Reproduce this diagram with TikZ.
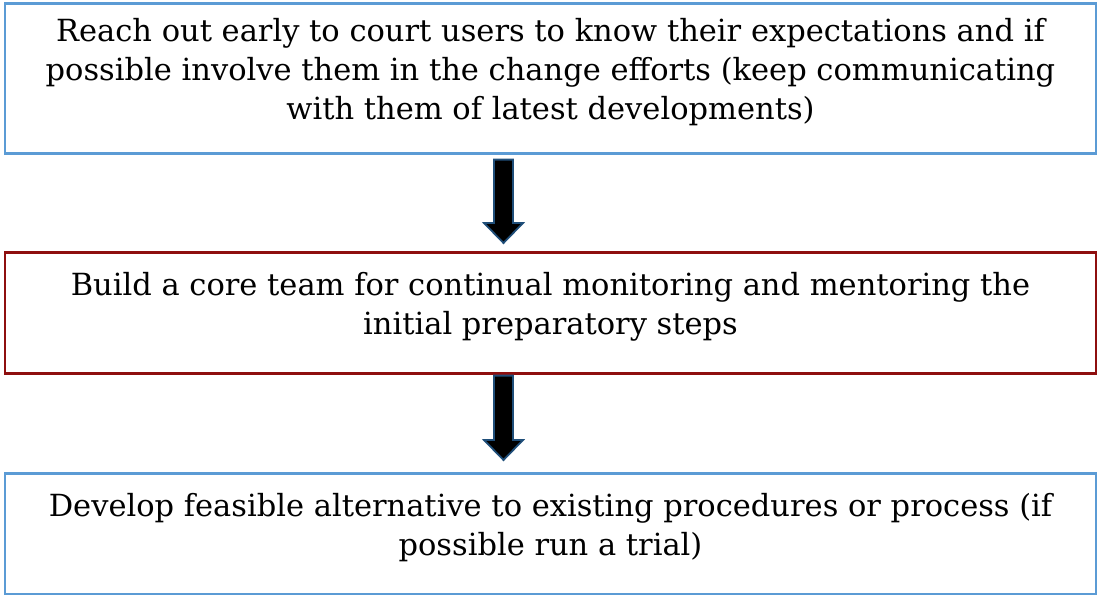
\documentclass[tikz,border=0pt]{standalone}
\usepackage{fontspec}
\setmainfont{DejaVu Serif}
\usetikzlibrary{calc}

\definecolor{boxBlue}{HTML}{5B9BD5}
\definecolor{boxRed}{HTML}{8E0F0F}
\definecolor{arrowEdge}{HTML}{1F4E79}

\newcommand{\liftedtext}[1]{%
  \raisebox{6bp}[\height][\depth]{\parbox{1080bp}{\centering
    \fontsize{30.5bp}{39bp}\selectfont #1}}}

\begin{document}
\begin{tikzpicture}
[x=1bp,y=-1bp,
  boxDecorate/.style={shape=rectangle,draw,line width=2.6bp,inner sep=0pt,
    minimum width=1091bp,anchor=north},%
  arrowDecorate/.style={fill=black,draw=arrowEdge,line width=1.8bp,line join=miter}]
\useasboundingbox (0,0) rectangle (1097,595);
%% boxes
\node (reach) at (550.5,2) [boxDecorate,draw=boxBlue,minimum height=150bp]
  {\liftedtext{Reach out early to court users to know their expectations and if\\
  possible involve them in the change efforts (keep communicating\\
  with them of latest developments)}};
\node (core) at (550.5,251) [boxDecorate,draw=boxRed,minimum height=121bp]
  {\liftedtext{Build a core team for continual monitoring and mentoring the\\
  initial preparatory steps}};
\node (develop) at (550.5,472) [boxDecorate,draw=boxBlue,minimum height=121bp]
  {\liftedtext{Develop feasible alternative to existing procedures or process (if\\
  possible run a trial)}};
%% block arrows
\foreach \startnode/\endnode/\gapa/\gapb in {reach/core/5/8, core/develop/1/12}
{
  \coordinate (s) at ($(\startnode.south)+(-47,\gapa)$);
  \coordinate (t) at ($(\endnode.north)+(-47,-\gapb)$);
  \draw[arrowDecorate] ($(s)+(-9.5,0)$) -- ($(s)+(9.5,0)$) -- ($(t)+(9.5,-20)$)
    -- ($(t)+(19.5,-20)$) -- (t) -- ($(t)+(-19.5,-20)$) -- ($(t)+(-9.5,-20)$) -- cycle;
}
\end{tikzpicture}
\end{document}
